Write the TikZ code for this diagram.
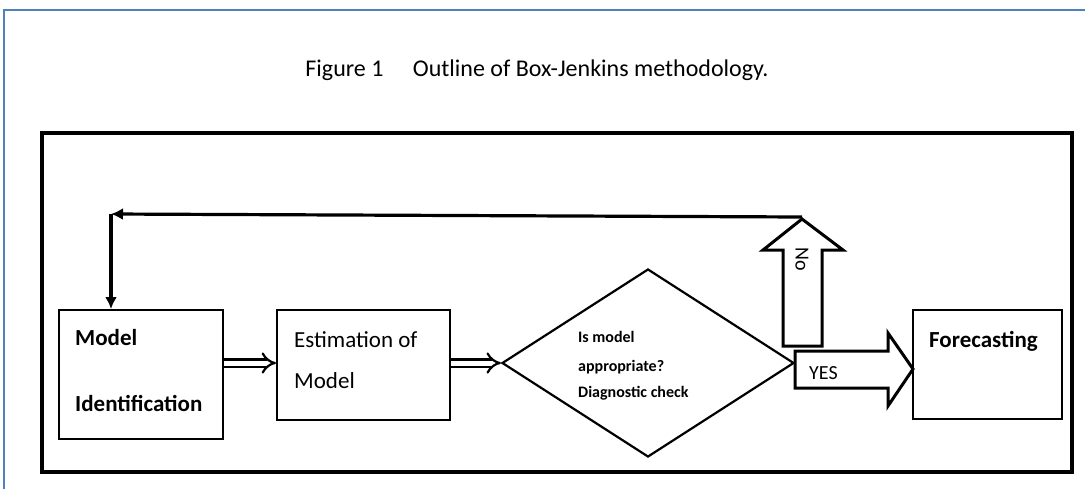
\documentclass[tikz,border=0pt]{standalone}
\usepackage{fontspec}
\setmainfont{Carlito}
\usetikzlibrary{arrows.meta,shapes.geometric}
\definecolor{frameblue}{HTML}{4F81BD}
\begin{document}
\begin{tikzpicture}[x=1pt,y=-1pt,
  box/.style={draw,line width=2pt,inner sep=0pt},
  bigtxt/.style={anchor=west,inner sep=0pt,font=\fontsize{23}{27}\selectfont},
  boldtxt/.style={bigtxt,font=\fontsize{23}{27}\selectfont\bfseries},
  smalltxt/.style={anchor=west,inner sep=0pt,font=\fontsize{16}{19}\selectfont\bfseries},
  dblarrow/.style={double,double distance=5pt,line width=2.2pt,-{Implies[scale=1.3]}},
  blockarrow/.style={draw,line width=3pt,line join=miter,fill=white},
  feedback/.style={line width=3.2pt,-{Latex[length=12pt,width=12pt]}}
]
\clip (0,0) rectangle (1085,488);
\fill[white] (0,0) rectangle (1085,488);
% outer blue frame
\draw[frameblue,line width=2pt] (4,10) rectangle (1110,520);
% title
\node[inner sep=0pt,font=\fontsize{24}{28}\selectfont] (title) at (537,70)
  {Figure 1\quad\ Outline of Box-Jenkins methodology.};
% black frame
\draw[line width=4pt] (42,133) rectangle (1072,472);
% boxes
\node[box,minimum width=164pt,minimum height=129pt] (mi) at (141,374.5) {};
\node[box,minimum width=173pt,minimum height=110pt] (est) at (363.5,365) {};
\node[box,minimum width=149pt,minimum height=109pt] (fc) at (987.5,364.5) {};
\node[draw,diamond,line width=2.2pt,inner sep=0pt,minimum width=292pt,minimum height=188pt] (dia) at (648,363) {};
% texts
\node[boldtxt] (t1) at (75,338) {Model};
\node[boldtxt] (t2) at (75,403) {Identification};
\node[bigtxt] (t3) at (294,340) {Estimation of};
\node[bigtxt] (t4) at (294,381) {Model};
\node[boldtxt] (t5) at (929,341) {Forecasting};
\node[smalltxt] (d1) at (578,337) {Is model};
\node[smalltxt] (d2) at (578,367) {appropriate?};
\node[smalltxt] (d3) at (578,393) {Diagnostic check};
% double arrows
\draw[dblarrow] (mi.east |- 0,363) -- (est.west |- 0,363);
\draw[dblarrow] (est.east |- 0,363) -- (dia.west);
% block arrow NO
\draw[blockarrow] (783,346) -- (783,250) -- (763,250) -- (802,219) -- (843,250) -- (822,250) -- (822,346) -- cycle;
\coordinate (notip) at (802,217);
\node[inner sep=0pt,rotate=-90,font=\fontsize{20}{24}\selectfont] (no) at (802,259) {No};
% block arrow YES
\draw[blockarrow] (795,351) -- (888,351) -- (888,333) -- (913,369) -- (888,406) -- (888,388) -- (795,388) -- cycle;
\node[inner sep=0pt,font=\fontsize{20}{24}\selectfont,anchor=west] (yes) at (809,373) {YES};
% feedback
\coordinate (corner) at (111,214);
\draw[feedback] (notip) -- (corner);
\draw[feedback] (corner) -- (mi.north -| corner);
\end{tikzpicture}
\end{document}
